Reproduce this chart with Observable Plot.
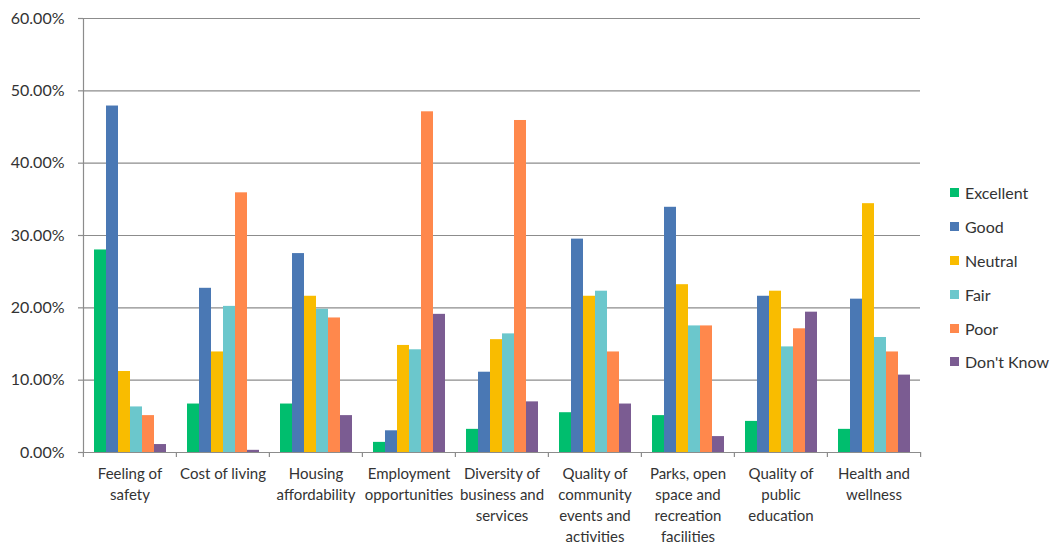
<!DOCTYPE html>
<html>
<head>
<meta charset="utf-8">
<script src="https://cdn.jsdelivr.net/npm/d3@7"></script>
<script src="https://cdn.jsdelivr.net/npm/@observablehq/plot@0.6"></script>
<style>
  html, body { margin: 0; padding: 0; background: #fff; }
  #wrap { position: relative; width: 1057px; height: 545px; font-family: Lato, "Open Sans", sans-serif; }
  #legend { position: absolute; left: 950px; top: 176px; font-size: 16px; color: #333; }
  #legend .row { display: flex; align-items: center; height: 33.8px; }
  #legend .sw { width: 9px; height: 9px; margin-right: 6px; }
</style>
</head>
<body>
<div id="wrap"><div id="chart"></div><div id="legend"></div></div>
<script>
const categories = ["Feeling of safety", "Cost of living", "Housing affordability", "Employment opportunities",
  "Diversity of business and services", "Quality of community events and activities",
  "Parks, open space and recreation facilities", "Quality of public education", "Health and wellness"];
const categoryLabels = ["Feeling of\nsafety", "Cost of living", "Housing\naffordability", "Employment\nopportunities",
  "Diversity of\nbusiness and\nservices", "Quality of\ncommunity\nevents and\nactivities",
  "Parks, open\nspace and\nrecreation\nfacilities", "Quality of\npublic\neducation", "Health and\nwellness"];
const series = ["Excellent", "Good", "Neutral", "Fair", "Poor", "Don't Know"];
const excellent = [28.0, 6.7, 6.7, 1.4, 3.2, 5.5, 5.1, 4.3, 3.2];
const good      = [47.9, 22.7, 27.5, 3.0, 11.1, 29.5, 33.9, 21.6, 21.2];
const neutral   = [11.2, 13.9, 21.6, 14.8, 15.6, 21.6, 23.2, 22.3, 34.4];
const fair      = [6.3, 20.2, 19.8, 14.2, 16.4, 22.3, 17.5, 14.6, 15.9];
const poor      = [5.1, 35.9, 18.6, 47.1, 45.9, 13.9, 17.5, 17.1, 13.9];
const dontKnow  = [1.1, 0.3, 5.1, 19.1, 7.0, 6.7, 2.2, 19.4, 10.7];
const yTicks = [0, 0.1, 0.2, 0.3, 0.4, 0.5, 0.6];
const colors = ["#00BE6E", "#4A78B4", "#F9BC00", "#6BC7CC", "#FF884C", "#7B5C92"];

const seriesValues = [excellent, good, neutral, fair, poor, dontKnow];
const data = [];
categories.forEach((c, i) => series.forEach((s, j) => data.push({category: c, series: s, value: seriesValues[j][i] / 100})));
const labelOf = new Map(categories.map((c, i) => [c, categoryLabels[i]]));

const W = 1057, H = 545, ML = 82, MR = 136, MT = 18, MB = 93;
const step = (W - ML - MR) / categories.length;
const gray = "#8c8c8c";

const chart = Plot.plot({
  width: W, height: H,
  marginLeft: ML, marginRight: MR, marginTop: MT, marginBottom: MB,
  style: {fontFamily: "Lato, 'Open Sans', sans-serif", color: "#333", background: "#fff", overflow: "visible"},
  fx: {domain: categories, padding: 0, axis: null},
  x: {domain: series, paddingInner: 0, paddingOuter: 0.77, axis: null},
  y: {domain: [0, 0.6], axis: null},
  color: {domain: series, range: colors},
  marks: [
    Plot.gridY(yTicks, {stroke: gray, strokeOpacity: 1, strokeWidth: 1.2}),
    Plot.axisY(yTicks, {label: null, tickFormat: d3.format(".2%"), tickSize: 5, tickPadding: 14, stroke: gray, strokeWidth: 1.2, fontSize: 16, fill: "#333"}),
    Plot.barY(data, {fx: "category", x: "series", y: "value", fill: "series"}),
    Plot.ruleY([0], {stroke: gray, strokeWidth: 1.2}),
    Plot.frame({anchor: "left", facetAnchor: "left", stroke: gray, strokeWidth: 1.2}),
    Plot.axisFx({anchor: "bottom", label: null, tickSize: 5, tickFormat: () => "", dx: -step / 2, stroke: gray, strokeWidth: 1.2}),
    Plot.axisFx({anchor: "bottom", label: null, ticks: [categories[categories.length - 1]], tickSize: 5, tickFormat: () => "", dx: step / 2, stroke: gray, strokeWidth: 1.2}),
    Plot.axisFx({anchor: "bottom", label: null, tickSize: 0, tickPadding: 12, tickFormat: d => labelOf.get(d), lineHeight: 1.39, fontSize: 15, fill: "#333"})
  ]
});
document.getElementById("chart").appendChild(chart);

const legend = document.getElementById("legend");
series.forEach((s, i) => {
  const row = document.createElement("div");
  row.className = "row";
  row.innerHTML = `<span class="sw" style="background:${colors[i]}"></span><span>${s}</span>`;
  legend.appendChild(row);
});
</script>
</body>
</html>
